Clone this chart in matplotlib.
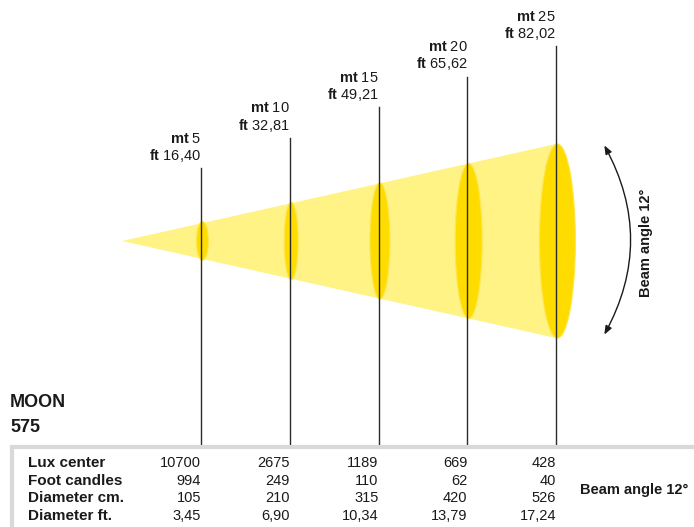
import matplotlib
matplotlib.use("Agg")
from matplotlib import pyplot as plt
from matplotlib.patches import Polygon, Ellipse, Rectangle, FancyArrowPatch
from matplotlib.transforms import blended_transform_factory

plt.rcParams['font.family'] = ['Liberation Sans', 'DejaVu Sans']
plt.rcParams['mathtext.fontset'] = 'custom'
plt.rcParams['mathtext.bf'] = 'Liberation Sans:bold'
plt.rcParams['mathtext.rm'] = 'Liberation Sans'

# data
distance_mt = [5, 10, 15, 20, 25]
distance_ft = ['16,40', '32,81', '49,21', '65,62', '82,02']
lux_center = [10700, 2675, 1189, 669, 428]
foot_candles = [994, 249, 110, 62, 40]
diameter_cm = [105, 210, 315, 420, 526]
diameter_ft = ['3,45', '6,90', '10,34', '13,79', '17,24']
row_labels = ['Lux center', 'Foot candles', 'Diameter cm.', 'Diameter ft.']
beam_angle = 12
product = ['MOON', '575']

W, H = 694, 527
fig = plt.figure(figsize=(W / 100, H / 100), dpi=100)
ax = fig.add_axes([0, 0, 1, 1])
ax.axis('off')

# pixel scale: 17.75 px per metre along the beam, 36.9 px per metre of radius
px_m_x, x0_px = 17.75, 112.25
px_m_y, y0_px = 36.9, 241
ax.set_xlim(-x0_px / px_m_x, (W - x0_px) / px_m_x)
ax.set_ylim(-(H - y0_px) / px_m_y, y0_px / px_m_y)

# x in data, y in pixels from top
tr = blended_transform_factory(ax.transData, fig.transFigure)
def fy(py):
    return 1 - py / H

radius = [c / 200 for c in diameter_cm]
ell_w = [12, 14, 20, 27, 36]  # ellipse widths in px
txt = '#1a1a1a'

# cone
apex = 0.55
cone = Polygon([(apex, 0), (distance_mt[-1], radius[-1]), (distance_mt[-1], -radius[-1])],
               closed=True, fc='#FFF386', ec='none', zorder=1)
ax.add_patch(cone)

for i, d in enumerate(distance_mt):
    ax.add_patch(Ellipse((d + 0.08, 0), ell_w[i] / px_m_x, 2 * radius[i],
                         fc='#FFDC00', ec='#FFE64D', lw=0.8, zorder=2))
    top = 168 - 30.5 * i
    ax.plot([d, d], [fy(top), fy(447)], transform=tr, color='#2b2b2b', lw=1, zorder=3)
    ax.text(d, fy(top - 25), r'$\mathbf{mt}$ %d' % d, transform=tr, ha='right',
            va='baseline', fontsize=10.5, color=txt)
    ax.text(d, fy(top - 8), r'$\mathbf{ft}$ ' + distance_ft[i], transform=tr,
            ha='right', va='baseline', fontsize=10.5, color=txt)

# product name
for j, s in enumerate(product):
    fig.text(10 / W, fy(407 + 25 * j), s, ha='left', va='baseline', fontsize=13,
             fontweight='bold', color=txt)

# table frame
fig.patches.append(Rectangle((12 / W, -0.05), 1.1, fy(447) + 0.05, transform=fig.transFigure,
                             fill=False, ec='#d9d9d9', lw=3))

rows = [lux_center, foot_candles, diameter_cm, diameter_ft]
row_y = [467, 485, 502, 520]
for r, lab in enumerate(row_labels):
    fig.text(28 / W, fy(row_y[r]), lab, ha='left', va='baseline', fontsize=11,
             fontweight='bold', color=txt)
    for i, d in enumerate(distance_mt):
        ax.text(d, fy(row_y[r]), str(rows[r][i]), transform=tr, ha='right',
                va='baseline', fontsize=10.5, color=txt)
fig.text(580 / W, fy(494), 'Beam angle %d°' % beam_angle, ha='left', va='baseline',
         fontsize=10.5, fontweight='bold', color=txt)

# beam angle arrow
arr = FancyArrowPatch((603 / W, fy(143)), (603 / W, fy(337)), transform=fig.transFigure,
                      connectionstyle='arc3,rad=-0.28',
                      arrowstyle='<|-|>,head_length=5,head_width=2',
                      color=txt, lw=1)
fig.patches.append(arr)
fig.text(646 / W, fy(243), 'Beam angle %d°' % beam_angle, rotation=90, ha='center',
         va='center', fontsize=10.5, fontweight='bold', color=txt)

fig.savefig('out.png', dpi=100)
